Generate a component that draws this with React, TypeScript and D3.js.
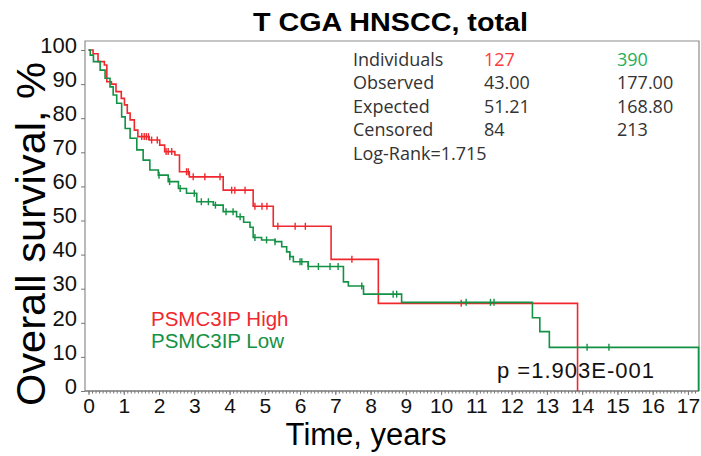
import * as d3 from 'd3';
import React, { useEffect, useRef } from 'react';

// Kaplan-Meier steps: [years, survival %]
const highSteps: [number, number][] = [
  [0, 100], [0.13, 98.9], [0.27, 96.6], [0.45, 95.6], [0.52, 90.7], [0.65, 90.0],
  [0.78, 87.8], [0.93, 85.8], [1.02, 83.9], [1.10, 81.5], [1.18, 79.5], [1.30, 76.5],
  [1.40, 74.6], [1.72, 73.6], [2.02, 72.1], [2.16, 70.2], [2.45, 69.2], [2.58, 64.3],
  [2.86, 62.8], [3.82, 58.9], [4.67, 54.2], [5.24, 48.3], [6.88, 38.6], [8.22, 25.7],
  [13.87, 0],
];
const lowSteps: [number, number][] = [
  [0, 100], [0.05, 98.5], [0.14, 96.6], [0.33, 94.1], [0.47, 91.7], [0.61, 89.2],
  [0.70, 86.8], [0.80, 84.4], [0.94, 80.4], [1.04, 77.0], [1.18, 74.1], [1.37, 70.7],
  [1.55, 67.7], [1.74, 64.8], [1.98, 63.3], [2.26, 61.4], [2.55, 59.4], [2.78, 58.0],
  [3.07, 55.5], [3.54, 54.5], [3.82, 52.6], [4.20, 51.1], [4.40, 49.5], [4.58, 48.0],
  [4.67, 45.0], [4.91, 44.3], [5.29, 43.8], [5.48, 42.3], [5.62, 40.8], [5.71, 39.4],
  [5.81, 37.9], [6.23, 36.5], [7.23, 32.0], [7.37, 30.8], [7.80, 28.4], [8.88, 26.0],
  [12.59, 21.5], [12.80, 17.4], [13.07, 12.8], [17.30, 0],
];
const highCensored = [1.51, 1.58, 1.64, 1.70, 1.79, 1.95, 2.2, 2.26, 2.36, 2.78, 2.83,
  2.97, 3.3, 3.73, 4.06, 4.15, 4.44, 4.72, 4.92, 5.06, 5.37, 5.86, 6.15, 7.47, 10.57];
const lowCensored = [2.0, 2.3, 2.6, 3.0, 3.2, 3.4, 3.6, 3.9, 4.1, 4.3, 4.72, 5.05, 5.29,
  5.71, 6.0, 6.05, 6.23, 6.52, 6.85, 7.08, 7.75, 8.64, 8.74, 10.71, 11.4, 11.5, 14.14, 14.76];

const xTicks = d3.range(0, 18);
const yTicks = d3.range(0, 101, 10);
const statRows = ['Individuals', 'Observed', 'Expected', 'Censored'];
const highStats = ['127', '43.00', '51.21', '84'];
const lowStats = ['390', '177.00', '168.80', '213'];
const legendLabels = ['PSMC3IP High', 'PSMC3IP Low'];

const RED = '#f0282e';
const GREEN = '#139144';
const SANS = 'Liberation Sans, Arial, sans-serif';

const App = () => {
  const ref = useRef<SVGSVGElement>(null);

  useEffect(() => {
    document.body.style.margin = '0';
    const svg = d3.select(ref.current);
    svg.selectAll('*').remove();

    const x = d3.scaleLinear().domain([0, 17.3]).range([88.5, 698.5]);
    const y = d3.scaleLinear().domain([0, 100]).range([391, 50]);
    const left = 85, right = 699, top = 41, bottom = 391;

    // frame
    svg.append('path')
      .attr('d', `M${left},${bottom}V${top}H${right}V${bottom}`)
      .attr('fill', 'none')
      .attr('stroke', '#8c8c8c')
      .attr('stroke-width', 1.2);

    // x axis
    const minor = d3.range(0, 173).map(d => d / 10);
    svg.append('g')
      .attr('transform', `translate(0,${bottom})`)
      .call(d3.axisBottom(x).tickValues(minor).tickSize(2.5).tickFormat(() => ''))
      .call(g => g.select('.domain').remove())
      .call(g => g.selectAll('line').attr('stroke', '#777'));
    const xa = svg.append('g')
      .attr('transform', `translate(0,${bottom})`)
      .call(d3.axisBottom(x).tickValues(xTicks).tickSize(4).tickPadding(3).tickFormat(d3.format('d')));
    xa.select('.domain').remove();
    xa.selectAll('line').attr('stroke', '#777');
    xa.selectAll('text')
      .attr('font-family', SANS)
      .attr('font-size', 21)
      .attr('fill', '#111');
    svg.append('line')
      .attr('x1', left).attr('x2', right)
      .attr('y1', bottom).attr('y2', bottom)
      .attr('stroke', '#777').attr('stroke-width', 1.5);

    // y axis
    const ya = svg.append('g')
      .attr('transform', `translate(${left},0)`)
      .call(d3.axisLeft(y).tickValues(yTicks).tickSize(4).tickPadding(4));
    ya.select('.domain').remove();
    ya.selectAll('line').attr('stroke', '#777');
    ya.selectAll('text')
      .attr('font-family', SANS)
      .attr('font-size', 22)
      .attr('dy', '0.1em')
      .attr('fill', '#111');

    // curves
    const line = d3.line<[number, number]>()
      .x(d => x(d[0]))
      .y(d => y(d[1]))
      .curve(d3.curveStepAfter);

    const survAt = (steps: [number, number][], t: number) => {
      let s = steps[0][1];
      for (const [tt, v] of steps) if (tt <= t) s = v;
      return s;
    };

    const drawGroup = (steps: [number, number][], cens: number[], color: string) => {
      svg.append('path')
        .attr('d', line(steps))
        .attr('fill', 'none')
        .attr('stroke', color)
        .attr('stroke-width', 1.6);
      svg.append('g').selectAll('line')
        .data(cens)
        .enter()
        .append('line')
        .attr('x1', d => x(d)).attr('x2', d => x(d))
        .attr('y1', d => y(survAt(steps, d)) - 3.5)
        .attr('y2', d => y(survAt(steps, d)) + 3.5)
        .attr('stroke', color)
        .attr('stroke-width', 1.4);
    };
    drawGroup(highSteps, highCensored, RED);
    drawGroup(lowSteps, lowCensored, GREEN);

    // title
    svg.append('text')
      .attr('x', 253).attr('y', 31)
      .attr('font-family', SANS)
      .attr('font-weight', 'bold')
      .attr('font-size', 26)
      .attr('textLength', 275)
      .attr('lengthAdjust', 'spacingAndGlyphs')
      .text('T CGA HNSCC, total');

    // axis titles
    svg.append('text')
      .attr('x', 366).attr('y', 445)
      .attr('text-anchor', 'middle')
      .attr('font-family', SANS)
      .attr('font-size', 31)
      .text('Time, years');
    svg.append('text')
      .attr('transform', 'translate(45,406) rotate(-90)')
      .attr('font-family', SANS)
      .attr('font-size', 41)
      .attr('textLength', 344)
      .attr('lengthAdjust', 'spacingAndGlyphs')
      .text('Overall survival, %');

    // stats table
    const stat = svg.append('g')
      .attr('font-family', 'Open Sans, Lato, sans-serif')
      .attr('font-size', 18)
      .attr('fill', '#333');
    statRows.forEach((r, i) => {
      const yy = 66 + i * 23.4;
      stat.append('text').attr('x', 353).attr('y', yy).text(r);
      stat.append('text').attr('x', 484).attr('y', yy)
        .attr('fill', i === 0 ? '#ff3a3a' : '#333').text(highStats[i]);
      stat.append('text').attr('x', 617).attr('y', yy)
        .attr('fill', i === 0 ? '#27ae5a' : '#333').text(lowStats[i]);
    });
    stat.append('text').attr('x', 353).attr('y', 66 + 4 * 23.4).text('Log-Rank=1.715');

    // legend
    legendLabels.forEach((l, i) => {
      svg.append('text')
        .attr('x', 151).attr('y', 326 + i * 22)
        .attr('font-family', SANS)
        .attr('font-size', 20.5)
        .attr('fill', i === 0 ? RED : GREEN)
        .text(l);
    });

    // p value
    svg.append('text')
      .attr('x', 497).attr('y', 378)
      .attr('font-family', SANS)
      .attr('font-size', 22)
      .attr('letter-spacing', 1)
      .attr('fill', '#111')
      .text('p =1.903E-001');
  }, []);

  return (
    <svg ref={ref} width={701} height={456} style={{ position: 'absolute', left: 0, top: 0, background: '#fff' }}></svg>
  );
};

export default App;
